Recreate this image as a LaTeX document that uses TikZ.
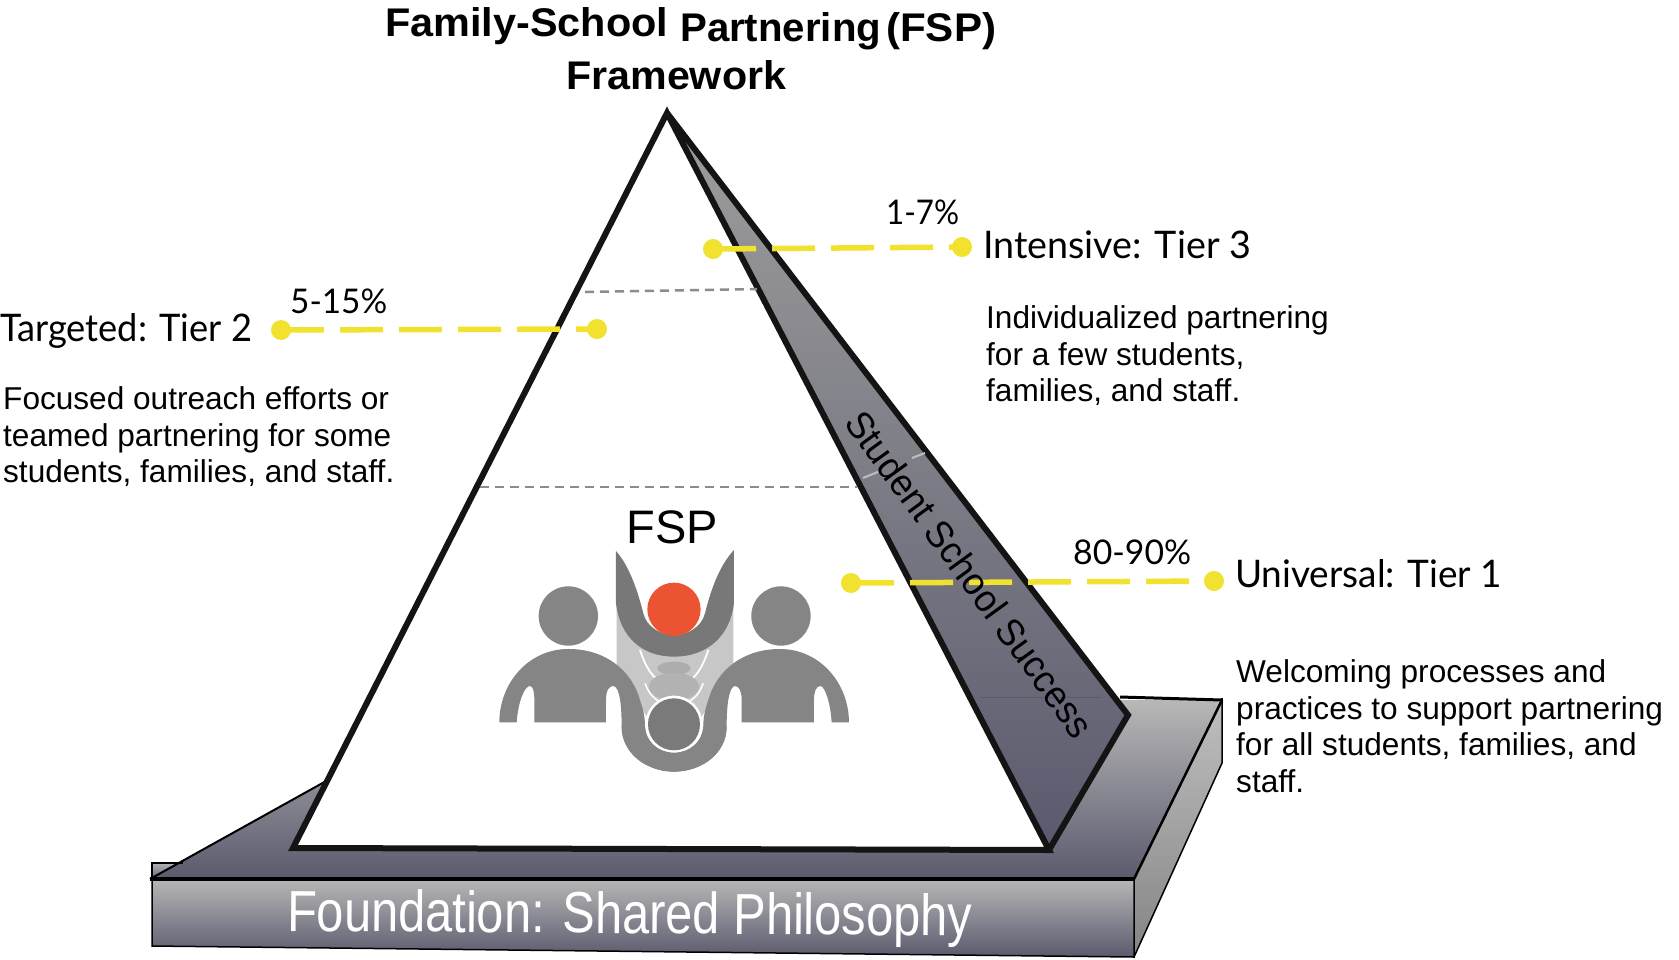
\documentclass[tikz,border=0pt]{standalone}
\usepackage{fontspec}
\usepackage{graphicx}
\setmainfont{Liberation Sans}
\newfontfamily\labf{Lato}
\newsavebox\mybox
\newcommand\fitx[2]{\sbox\mybox{#2}\resizebox{#1pt}{\ht\mybox}{\usebox\mybox}}
\definecolor{yel}{HTML}{F0E22E}
\definecolor{lgr}{HTML}{858585}
\definecolor{darkb}{HTML}{5A5A6E}
\definecolor{midg}{HTML}{A0A0A2}
\definecolor{redd}{HTML}{EC5332}
\tikzset{
  pt/.style={circle,fill=yel,inner sep=0pt,minimum size=20pt},
  tierline/.style={draw=yel,line width=5.5pt,dash pattern=on 43pt off 16pt},
  edge/.style={draw=black!92,line width=6pt,line join=miter},
  tierdiv/.style={draw=black!45,line width=2.5pt,dash pattern=on 9pt off 6pt},
  lab/.style={anchor=base west,inner sep=0pt,font=\labf\fontsize{38}{38}\selectfont},
  pct/.style={anchor=base west,inner sep=0pt,font=\labf\fontsize{34}{34}\selectfont},
  ttl/.style={anchor=base west,inner sep=0pt,font=\bfseries\fontsize{40}{40}\selectfont},
  body/.style={anchor=north west,inner sep=0pt,align=left,font=\fontsize{31.6}{36.9}\selectfont},
}
\begin{document}
\begin{tikzpicture}[x=1pt,y=-1pt]
\useasboundingbox (0,0) rectangle (1679,959);
% platform
\fill[top color=black!28,bottom color=darkb] (328,780) -- (700,700) -- (1222,700) -- (1134,879) -- (152,878) -- cycle;
\fill[top color=midg!80,bottom color=darkb!90] (152,878) -- (152,863) -- (179,863) -- cycle;
\fill[top color=black!25,bottom color=black!48] (1222,698) -- (1222,763) -- (1134,957) -- (1134,879) -- cycle;
\fill[top color=black!28,bottom color=darkb] (152,878) -- (1134,879) -- (1134,957) -- (152,946) -- cycle;
\draw[black,line width=1.5pt] (152,878) -- (152,946) -- (1134,957) -- (1134,879);
\draw[black,line width=1.5pt] (1134,957) -- (1222,763) -- (1222,698);
\draw[black,line width=1.5pt] (152,878) -- (152,863) -- (183,863);
\draw[black,line width=3pt] (1120,697) -- (1222,700);
\draw[black,line width=2.5pt] (1222,700) -- (1134,879);
\draw[black,line width=4pt] (150,879) -- (1134,879);
\draw[black,line width=2pt] (150,879) -- (328,780);
% side face
\fill[top color=black!38,middle color=black!43,bottom color=darkb] (667,113) -- (1128,715) -- (1049,850) -- cycle;
\draw[black,opacity=.12,line width=1pt] (980,697) -- (1102,697);
\draw[edge] (667,113) -- (1128,715) -- (1049,850);
% pyramid front
\fill[white] (667,113) -- (293,848) -- (1049,850) -- cycle;
\draw[edge] (667,113) -- (293,848) -- (1049,850) -- cycle;
% tier dividers
\draw[tierdiv] (585,292) -- (757,289);
\draw[tierdiv] (480,487) -- (857,487);
\draw[white!75!black,line width=2pt] (863,478) -- (880,471);
\draw[white!75!black,line width=2pt] (912,458) -- (925,453);
% logo
\begin{scope}[shift={(450,470)},x=0.3333pt,y=0.3333pt,yscale=-1]
\fill[black!22] (500,370) -- (500,590) -- (590,740) -- (755,740) -- (850,590) -- (850,370) -- cycle;
\fill[white] (540,300) -- (810,300) -- (770,500) -- (580,500) -- cycle;
\draw[white,line width=1.8pt] (570,540) .. controls (590,600) and (610,625) .. (640,640);
\draw[white,line width=1.8pt] (775,540) .. controls (755,600) and (735,625) .. (705,640);
\draw[white,line width=1.5pt] (585,640) .. controls (600,680) and (620,690) .. (630,695);
\draw[white,line width=1.5pt] (760,640) .. controls (745,680) and (725,690) .. (715,695);
\fill[black!32] (672,595) ellipse (50 and 20);
\fill[black!30] (672,650) ellipse (75 and 42);
\fill[lgr] (148,757) -- (200,757) .. controls (205,690) and (225,648) .. (240,648) .. controls (250,650) and (253,665) .. (253,690) -- (253,757) -- (468,757) -- (468,690) .. controls (468,660) and (478,648) .. (490,648) .. controls (508,650) and (515,700) .. (515,770) .. controls (515,850) and (590,905) .. (672,905) .. controls (755,905) and (830,850) .. (830,770) .. controls (830,700) and (838,650) .. (855,648) .. controls (868,648) and (875,665) .. (875,690) -- (875,757) -- (1092,757) -- (1092,690) .. controls (1092,665) and (1098,648) .. (1112,648) .. controls (1125,650) and (1142,700) .. (1145,757) -- (1197,757) .. controls (1197,640) and (1110,537) .. (990,537) .. controls (880,537) and (800,600) .. (775,690) .. controls (765,720) and (760,740) .. (760,770) .. controls (758,815) and (720,848) .. (672,848) .. controls (625,848) and (587,815) .. (585,770) .. controls (585,740) and (580,720) .. (570,690) .. controls (545,600) and (465,537) .. (355,537) .. controls (235,537) and (148,640) .. (148,757) -- cycle;
\fill[lgr] (355,438) circle (89);
\fill[lgr] (993,438) circle (89);
\fill[white] (672,763) circle (86);
\fill[lgr] (515,770) -- (585,770) .. controls (587,815) and (625,848) .. (672,848) .. controls (720,848) and (758,815) .. (760,770) -- (830,770) .. controls (830,850) and (755,905) .. (672,905) .. controls (590,905) and (515,850) .. (515,770) -- cycle;
\fill[black!52] (672,763) circle (78);
\fill[black!53] (498,243) .. controls (540,290) and (565,370) .. (580,430) .. controls (590,470) and (630,495) .. (672,495) .. controls (715,495) and (755,470) .. (765,430) .. controls (780,370) and (805,290) .. (852,240) -- (852,400) .. controls (840,500) and (770,560) .. (672,560) .. controls (575,560) and (510,500) .. (498,400) -- cycle;
\fill[redd] (672,418) circle (80);
\end{scope}
% tier points and connectors
\node[pt] (t3a) at (713,249) {};
\node[pt] (t3b) at (962,247) {};
\node[pt] (t2a) at (281,330) {};
\node[pt] (t2b) at (597,329) {};
\node[pt] (t1a) at (851,583) {};
\node[pt] (t1b) at (1214,581) {};
\draw[tierline] (t3a.center) -- (t3b.center);
\draw[tierline] (t2a.center) -- (t2b.center);
\draw[tierline] (t1a.center) -- (t1b.center);
% texts
\node[ttl] (title1) at (385,36) {\fitx{283}{Family-School}};
\node[ttl] (title2) at (680,41) {\fitx{201}{Partnering}};
\node[ttl] (title3) at (886,41) {\fitx{110}{(FSP)}};
\node[ttl] (title4) at (566,89) {\fitx{220}{Framework}};
\node[lab] (ltier3) at (983,258) {\fitx{268}{Intensive: Tier 3}};
\node[lab] (ltier2) at (0,341) {\fitx{252}{Targeted: Tier 2}};
\node[lab] (ltier1) at (1235,587) {\fitx{267}{Universal: Tier 1}};
\node[pct] (p3) at (886,224) {\fitx{73}{1-7\%}};
\node[pct] (p2) at (290,313) {\fitx{97}{5-15\%}};
\node[pct] (p1) at (1073,564) {\fitx{118}{80-90\%}};
\node[body] (b3) at (986,305) {Individualized partnering\\for a few students,\\families, and staff.};
\node[body] (b2) at (3,386) {Focused outreach efforts or\\teamed partnering for some\\students, families, and staff.};
\node[body] (b1) at (1236,659) {Welcoming processes and\\practices to support partnering\\for all students, families, and\\staff.};
\node[anchor=base,inner sep=0pt,font=\fontsize{47}{47}\selectfont] (fsp) at (672,543) {FSP};
\node[anchor=center,inner sep=0pt,rotate=-54,font=\fontsize{38}{38}\selectfont] (ssc) at (970,574) {\fitx{393}{Student School Success}};
\node[anchor=base west,inner sep=0pt,rotate=-0.4,text=white,font=\fontsize{58}{58}\selectfont] (found) at (287,931) {\fitx{685}{Foundation: Shared Philosophy}};
\end{tikzpicture}
\end{document}
